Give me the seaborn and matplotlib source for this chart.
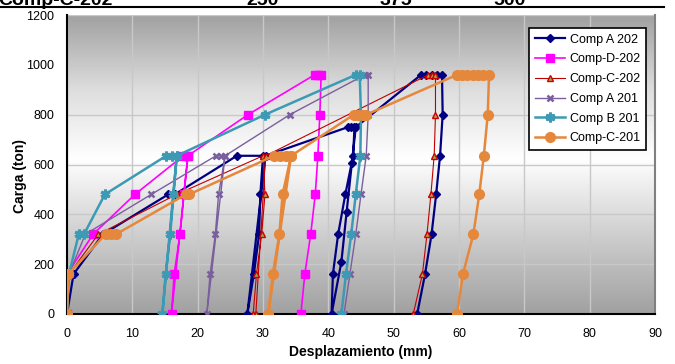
import numpy as np
import pandas as pd
import matplotlib
matplotlib.use("Agg")
import matplotlib.pyplot as plt
from matplotlib.colors import LinearSegmentedColormap
from matplotlib.lines import Line2D
import seaborn as sns

# ---------------- data (displacement mm, load ton) ----------------
labels = ["Comp A 202", "Comp-D-202", "Comp-C-202", "Comp A 201", "Comp B 201", "Comp-C-201"]

x_a202 = [0, 1.0, 5.5, 15.5, 16.5, 26.0, 30.0, 29.6, 29.4, 28.6, 27.6, 30.4, 43.0, 43.5, 44.0,
          43.8, 42.6, 41.5, 40.7, 40.5, 42.0, 42.8, 43.6, 44.2, 54.2, 55.0, 55.8, 56.6, 57.4,
          57.5, 57.1, 56.5, 55.8, 54.8, 53.6]
y_a202 = [0, 160, 320, 480, 480, 635, 635, 480, 320, 160, 0, 635, 750, 750, 750,
          635, 480, 320, 160, 0, 210, 410, 605, 750, 960, 960, 960, 960, 960,
          800, 635, 480, 320, 160, 0]

x_d202 = [0, 0, 4.0, 10.4, 17.8, 18.5, 17.9, 17.3, 16.4, 16.0, 18.5, 27.7, 37.9, 38.4, 38.9,
          38.7, 38.4, 38.0, 37.3, 36.4, 35.8]
y_d202 = [0, 160, 320, 480, 635, 635, 480, 320, 160, 0, 635, 800, 960, 960, 960,
          800, 635, 480, 320, 160, 0]

x_c202 = [0, 0.3, 4.8, 16.8, 30.0, 30.3, 29.8, 29.0, 28.5, 28.9, 30.4, 55.3, 55.9, 56.4,
          56.4, 56.2, 55.7, 55.1, 54.4, 53.0]
y_c202 = [0, 160, 320, 480, 635, 480, 320, 160, 0, 0, 635, 960, 960, 960,
          800, 635, 480, 320, 160, 0]

x_a201 = [0, 0.3, 2.8, 12.9, 22.8, 23.5, 24.2, 23.2, 22.7, 21.9, 21.4, 24.2, 34.1, 45.6, 46.1,
          46.1, 45.8, 45.0, 44.2, 43.3, 42.4]
y_a201 = [0, 160, 320, 480, 635, 635, 635, 480, 320, 160, 0, 635, 800, 960, 960,
          800, 635, 480, 320, 160, 0]

x_b201 = [0, 0.3, 1.8, 2.6, 5.8, 15.2, 16.0, 16.8, 16.3, 15.8, 15.1, 14.6, 16.8, 30.3, 44.2, 44.8,
          45.0, 44.9, 44.2, 43.5, 42.7, 42.0]
y_b201 = [0, 160, 320, 320, 480, 635, 635, 635, 480, 320, 160, 0, 635, 800, 960, 960,
          800, 635, 480, 320, 160, 0]

x_c201 = [0, 0.2, 5.9, 6.7, 7.5, 18.2, 18.7, 31.7, 32.6, 33.5, 34.3, 33.0, 32.5, 31.5, 30.8,
          34.3, 43.9, 44.6, 45.3, 45.8, 59.7, 60.5, 61.3, 62.1, 62.9, 63.7, 64.6,
          64.4, 63.8, 63.1, 62.2, 60.6, 59.7]
y_c201 = [0, 160, 320, 320, 320, 480, 480, 635, 635, 635, 635, 480, 320, 160, 0,
          635, 800, 800, 800, 800, 960, 960, 960, 960, 960, 960, 960,
          800, 635, 480, 320, 160, 0]

x_ticks = [0, 10, 20, 30, 40, 50, 60, 70, 80, 90]
y_ticks = [0, 200, 400, 600, 800, 1000, 1200]

header_texts = ["Comp-C-202", "250", "375", "500"]

series_x = [x_a202, x_d202, x_c202, x_a201, x_b201, x_c201]
series_y = [y_a202, y_d202, y_c202, y_a201, y_b201, y_c201]

# ---------------- styles ----------------
styles = [
    dict(color="#000080", marker="D", markersize=4, lw=1.6, mec="#000080", mfc="#000080", mew=1),
    dict(color="#FF00FF", marker="s", markersize=6, lw=1.2, mec="#FF00FF", mfc="#FF00FF", mew=1),
    dict(color="#C00000", marker="^", markersize=4.5, lw=0.8, mec="#D00000", mfc="#9BA84A", mew=1),
    dict(color="#7A5F9E", marker="x", markersize=5, lw=1.0, mec="#7A5F9E", mfc="#7A5F9E", mew=1.8),
    dict(color="#3D9AB4", marker=(6, 2, 0), markersize=7, lw=1.8, mec="#3D9AB4", mfc="#3D9AB4", mew=2.2),
    dict(color="#E5883C", marker="o", markersize=7, lw=1.8, mec="#E5883C", mfc="#E5883C", mew=1),
]

plt.rcParams["font.family"] = ["Liberation Sans", "DejaVu Sans"]

fig = plt.figure(figsize=(6.75, 3.64), dpi=100)
ax = fig.add_axes([67 / 675, 50 / 364, 588 / 675, 299 / 364])

# background gradient (gray - white - gray)
cmap = LinearSegmentedColormap.from_list(
    "bg",
    [(0.0, (0.63, 0.63, 0.63)), (0.25, (0.80, 0.80, 0.80)), (0.52, (1, 1, 1)),
     (0.75, (0.87, 0.87, 0.87)), (1.0, (0.63, 0.63, 0.63))])
grad = np.linspace(0, 1, 256).reshape(-1, 1)
ax.imshow(grad, extent=[0, 90, 0, 1200], origin="lower", aspect="auto", cmap=cmap, zorder=0)

for xs, ys, lab, st in zip(series_x, series_y, labels, styles):
    df = pd.DataFrame({"x": xs, "y": ys})
    sns.lineplot(data=df, x="x", y="y", sort=False, estimator=None, ax=ax, label=lab,
                 color=st["color"], marker=st["marker"], markersize=st["markersize"],
                 linewidth=st["lw"], markeredgecolor=st["mec"], markerfacecolor=st["mfc"],
                 markeredgewidth=st["mew"], zorder=3)

ax.set_xlim(0, 90)
ax.set_ylim(0, 1200)
ax.set_xticks(x_ticks)
ax.set_yticks(y_ticks)
ax.grid(True, color="#c8c8c8", lw=1.0)
ax.set_axisbelow(True)
ax.tick_params(axis="both", length=0, labelsize=9)
ax.tick_params(axis="y", pad=9)
ax.tick_params(axis="x", pad=10)

for s in ["left", "bottom"]:
    ax.spines[s].set_color("black")
    ax.spines[s].set_linewidth(1.5)
ax.spines["right"].set_color("#808080")
ax.spines["right"].set_linewidth(1.5)
ax.spines["top"].set_visible(False)

ax.set_xlabel("Desplazamiento (mm)", fontsize=10, fontweight="bold", labelpad=4)
ax.set_ylabel("Carga (ton)", fontsize=10, fontweight="bold")
ax.yaxis.set_label_coords((27 - 67) / 588, 0.46)

handles = [Line2D([], [], color=st["color"], marker=st["marker"], markersize=st["markersize"],
                  lw=st["lw"], mec=st["mec"], mfc=st["mfc"], mew=st["mew"]) for st in styles]
leg = ax.legend(handles, labels, loc="upper left", bbox_to_anchor=((529 - 67) / 588, (314 - 28) / 299),
                fontsize=9, frameon=True, fancybox=False, framealpha=1, edgecolor="black",
                handlelength=2.4, labelspacing=0.62, borderpad=0.45, handletextpad=0.4,
                borderaxespad=0)
leg.get_frame().set_linewidth(1.2)

# clipped header row from the table above the chart
hx = [-2, 263, 396, 510]
for t, xp in zip(header_texts, hx):
    fig.text(xp / 675, 1 - 5 / 364, t, fontsize=14, fontweight="bold",
             ha="left" if xp < 0 else "center", va="baseline")
fig.add_artist(Line2D([0, 664 / 675], [1 - 7 / 364, 1 - 7 / 364], color="black", lw=1.5,
                      transform=fig.transFigure))

fig.savefig("out.png", dpi=100)
